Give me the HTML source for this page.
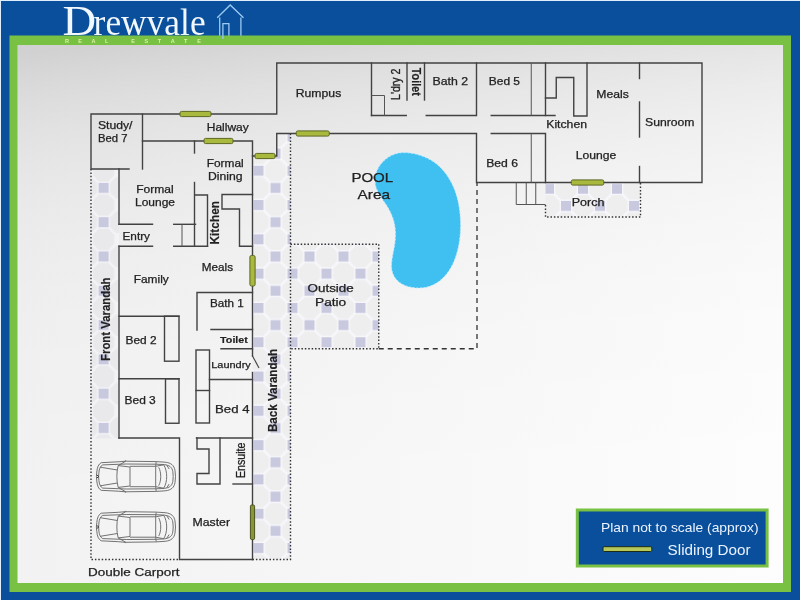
<!DOCTYPE html>
<html lang="en">
<head>
<meta charset="utf-8">
<title>Drewvale Real Estate - Floor Plan</title>
<style>
html,body{margin:0;padding:0;}
body{width:800px;height:600px;overflow:hidden;background:#0a4f9b;font-family:"Liberation Sans",sans-serif;}
svg{display:block;position:absolute;left:0;top:0;will-change:transform;}
.w{stroke:#424242;stroke-width:1.4;fill:none;stroke-linecap:square;}
.t{stroke:#555;stroke-width:1;fill:none;}
.dot{stroke:#333;stroke-width:1.4;fill:none;stroke-dasharray:1.5 1.9;}
.dash{stroke:#333;stroke-width:1.3;fill:none;stroke-dasharray:5 4;}
.sd{fill:#a9b93e;stroke:#5d6722;stroke-width:1;}
.sd2{fill:#8a9636;stroke:#4a5220;stroke-width:1;}
.lb{font-family:"Liberation Sans",sans-serif;font-size:10.4px;fill:#222;stroke:#222;stroke-width:0.25;}
.b{font-weight:bold;stroke-width:0.15;}
.car{stroke:#6a6a6a;stroke-width:0.95;fill:none;}
</style>
</head>
<body>
<svg width="800" height="600" viewBox="0 0 800 600">
<defs>
<linearGradient id="bg" x1="0" y1="0" x2="1" y2="0">
<stop offset="0" stop-color="#f2f2f2"/>
<stop offset="1" stop-color="#fdfdfd"/>
</linearGradient>
<linearGradient id="shade" gradientUnits="userSpaceOnUse" x1="50" y1="50" x2="79.8" y2="508.2">
<stop offset="0.0" stop-color="#000" stop-opacity="0.1382"/>
<stop offset="0.0543" stop-color="#000" stop-opacity="0.1112"/>
<stop offset="0.1087" stop-color="#000" stop-opacity="0.0895"/>
<stop offset="0.1739" stop-color="#000" stop-opacity="0.0689"/>
<stop offset="0.2391" stop-color="#000" stop-opacity="0.0531"/>
<stop offset="0.3261" stop-color="#000" stop-opacity="0.0375"/>
<stop offset="0.4348" stop-color="#000" stop-opacity="0.0243"/>
<stop offset="0.5435" stop-color="#000" stop-opacity="0.0157"/>
<stop offset="0.6522" stop-color="#000" stop-opacity="0.0102"/>
<stop offset="0.8261" stop-color="#000" stop-opacity="0.0051"/>
<stop offset="1.0" stop-color="#000" stop-opacity="0.0"/>
</linearGradient>
<pattern id="tile" x="253.5" y="165.75" width="34" height="34.3" patternUnits="userSpaceOnUse">
<rect x="0" y="0" width="34" height="34.3" fill="#f7f7fb"/>
<path d="M11.4,0.4L17.4,-5.75L26.6,-5.75L32.6,0.4L32.6,9.6L26.6,15.75L17.4,15.75L11.4,9.6ZM11.4,34.7L17.4,28.55L26.6,28.55L32.6,34.7L32.6,43.9L26.6,50.05L17.4,50.05L11.4,43.9ZM-5.6,17.55L0.4,11.4L9.6,11.4L15.6,17.55L15.6,26.75L9.6,32.9L0.4,32.9L-5.6,26.75ZM28.4,17.55L34.4,11.4L43.6,11.4L49.6,17.55L49.6,26.75L43.6,32.9L34.4,32.9L28.4,26.75Z" fill="#eeeeef"/>
<rect x="0" y="0" width="10" height="10" fill="#c8c9de"/>
<rect x="17" y="17.15" width="10" height="10" fill="#c8c9de"/>
</pattern>
<pattern id="tileF" x="98.6" y="182.9" width="34" height="34.3" patternUnits="userSpaceOnUse">
<rect x="0" y="0" width="34" height="34.3" fill="#f3f3f7"/>
<path d="M11.4,0.4L17.4,-5.75L26.6,-5.75L32.6,0.4L32.6,9.6L26.6,15.75L17.4,15.75L11.4,9.6ZM11.4,34.7L17.4,28.55L26.6,28.55L32.6,34.7L32.6,43.9L26.6,50.05L17.4,50.05L11.4,43.9ZM-5.6,17.55L0.4,11.4L9.6,11.4L15.6,17.55L15.6,26.75L9.6,32.9L0.4,32.9L-5.6,26.75ZM28.4,17.55L34.4,11.4L43.6,11.4L49.6,17.55L49.6,26.75L43.6,32.9L34.4,32.9L28.4,26.75Z" fill="#e9e9eb"/>
<rect x="0" y="0" width="10" height="10" fill="#c8c9de"/>
</pattern>
<pattern id="tileP" x="255" y="166.6" width="34" height="34.3" patternUnits="userSpaceOnUse">
<rect x="0" y="0" width="34" height="34.3" fill="#f7f7fb"/>
<path d="M11.4,0.4L17.4,-5.75L26.6,-5.75L32.6,0.4L32.6,9.6L26.6,15.75L17.4,15.75L11.4,9.6ZM11.4,34.7L17.4,28.55L26.6,28.55L32.6,34.7L32.6,43.9L26.6,50.05L17.4,50.05L11.4,43.9ZM-5.6,17.55L0.4,11.4L9.6,11.4L15.6,17.55L15.6,26.75L9.6,32.9L0.4,32.9L-5.6,26.75ZM28.4,17.55L34.4,11.4L43.6,11.4L49.6,17.55L49.6,26.75L43.6,32.9L34.4,32.9L28.4,26.75Z" fill="#eeeeef"/>
<rect x="0" y="0" width="10" height="10" fill="#c8c9de"/>
<rect x="17" y="17.15" width="10" height="10" fill="#c8c9de"/>
</pattern>
</defs>

<!-- frame -->
<rect x="0" y="0" width="800" height="600" fill="#0a4f9b"/>
<rect x="0" y="0" width="800" height="1" fill="#dfeefa"/>
<rect x="0" y="0" width="1" height="600" fill="#dfeefa"/>
<rect x="9.5" y="35.5" width="781.5" height="556.5" fill="#78c143"/>
<rect x="17.5" y="45" width="765.5" height="538" fill="url(#bg)"/>
<rect x="17.5" y="45" width="765.5" height="538" fill="url(#shade)"/>

<!-- FLOORPLAN -->
<g id="plan">
<!-- tiled areas -->
<rect x="252.5" y="156" width="38" height="403.5" fill="url(#tile)"/>
<rect x="277" y="133.5" width="13.5" height="23" fill="url(#tile)"/>
<rect x="290.5" y="244" width="88.25" height="104.75" fill="url(#tile)"/>
<rect x="545.5" y="182.5" width="95" height="34.5" fill="url(#tileP)"/>
<rect x="91" y="169" width="28" height="269.5" fill="url(#tileF)"/>

<!-- pool -->
<path id="pool" d="M404,152.6 C414,152.6 426,156 436,163.5 C448,173 460.6,192 460.6,225 C460.6,262 444,288 419,288 C402,288 391.5,279 391.5,266 C391.5,256 395.5,247 395.5,234 C395.5,220 390,210 383.75,201.25 C379,194.5 375,188 375,181 C375,165 389,152.6 404,152.6 Z" fill="#3fc0f1" stroke="#bfeaff" stroke-width="0.9" stroke-dasharray="2 1.6"/>

<!-- dotted / dashed outlines -->
<polyline class="dot" points="91,169 91,559.5 179.5,559.5"/>
<polyline class="dot" points="252.5,559.5 290.5,559.5 290.5,133.5"/>
<polyline class="dot" points="290.5,244.2 378.75,244.2 378.75,348.75 290.5,348.75"/>
<polyline class="dot" points="545.5,205 545.5,217 640.5,217 640.5,182.5"/>
<polyline class="dash" points="378.75,348.75 477,348.75 477,182.5"/>

<!-- WALLS : left house -->
<polyline class="w" points="129,169 91,169 91,114 276.75,114 276.75,63 702,63 702,182.5 476.5,182.5 476.5,133.5 276.75,133.5 276.75,156 252.5,156"/>
<line class="w" x1="142.5" y1="114" x2="142.5" y2="169"/>
<polyline class="w" points="142.5,141 252.5,141 252.5,356"/>
<line class="w" x1="252.5" y1="372.5" x2="252.5" y2="559.5"/>
<line class="w" x1="252.5" y1="356" x2="258.75" y2="367.5" style="stroke-width:1.1"/>
<line class="w" x1="194.5" y1="141" x2="194.5" y2="153"/>
<line class="w" x1="194.5" y1="182.5" x2="194.5" y2="246.3"/>
<line class="w" x1="119" y1="169" x2="119" y2="224.3"/>
<line class="w" x1="119" y1="246.3" x2="119" y2="438"/>
<line class="w" x1="119" y1="224.3" x2="152.5" y2="224.3"/>
<line class="w" x1="119" y1="246.3" x2="152.5" y2="246.3"/>
<line class="w" x1="173.75" y1="224.3" x2="195.5" y2="224.3"/>
<line class="w" x1="173.75" y1="246.3" x2="207.5" y2="246.3"/>
<line class="t" x1="182" y1="224.3" x2="182" y2="246.3"/>
<polyline class="w" points="195.5,195 207.5,195 207.5,246.3"/>
<polyline class="w" points="252.5,194.5 222,194.5 222,209 239.5,209 239.5,246.3 252.5,246.3"/>
<!-- bath1 / toilet / laundry -->
<polyline class="w" points="252.5,292.5 197,292.5 197,330"/>
<line class="w" x1="211" y1="329.5" x2="252.5" y2="329.5"/>
<line class="w" x1="221" y1="348.75" x2="252.5" y2="348.75"/>
<rect class="w" x="196" y="350" width="13.5" height="73"/>
<line class="w" x1="196" y1="390.5" x2="209.5" y2="390.5"/>
<line class="w" x1="209.5" y1="379.5" x2="252.5" y2="379.5"/>
<!-- bed 2 / bed 3 -->
<line class="w" x1="119" y1="316.2" x2="179" y2="316.2"/>
<rect class="w" x="164.5" y="316.2" width="14.5" height="45"/>
<line class="w" x1="119" y1="378.75" x2="179" y2="378.75"/>
<rect class="w" x="165.5" y="378.75" width="13.5" height="44.5"/>
<polyline class="w" points="119,438 179.5,438 179.5,559.5 252.5,559.5"/>
<!-- ensuite -->
<line class="w" x1="196.5" y1="438" x2="252.5" y2="438"/>
<polyline class="w" points="197,438 197,449 209,449 209,473.5 197,473.5 197,484 220,484 220,438"/>
<line class="w" x1="233" y1="484" x2="252.5" y2="484"/>

<!-- WALLS : top wing -->
<line class="w" x1="371.5" y1="63" x2="371.5" y2="115.5"/>
<line class="w" x1="371.5" y1="115.5" x2="406.25" y2="115.5"/>
<polyline class="t" points="371.5,95.5 384.5,95.5 384.5,115.5"/>
<line class="w" x1="407" y1="63" x2="407" y2="100"/>
<line class="w" x1="424.5" y1="63" x2="424.5" y2="100"/>
<polyline class="w" points="426.25,115.5 476.5,115.5 476.5,63"/>
<line class="w" x1="491.25" y1="115.5" x2="555" y2="115.5"/>
<line class="t" x1="531.25" y1="63" x2="531.25" y2="115.5"/>
<line class="w" x1="545.5" y1="63" x2="545.5" y2="115.5"/>
<polyline class="w" points="545.5,98 556.25,98 556.25,77.5 573.75,77.5 573.75,116 587,116 587,63"/>
<polyline class="w" points="491.25,133.5 545.5,133.5 545.5,182.5"/>
<line class="t" x1="531.25" y1="133.5" x2="531.25" y2="182.5"/>
<line class="w" x1="639.5" y1="63" x2="639.5" y2="78.5"/>
<line class="w" x1="639.5" y1="102" x2="639.5" y2="137"/>
<line class="w" x1="639.5" y1="166.5" x2="639.5" y2="182.5"/>
<!-- steps -->
<polyline class="t" points="516.25,182.5 516.25,204.5 545.5,204.5"/>
<line class="t" x1="526.25" y1="182.5" x2="526.25" y2="204.5"/>
<line class="t" x1="535.75" y1="182.5" x2="535.75" y2="204.5"/>
<!-- sliding doors -->
<rect class="sd" x="180" y="111.4" width="31" height="5.2" rx="1.56"/>
<rect class="sd" x="204" y="138.4" width="29" height="5.2" rx="1.56"/>
<rect class="sd" x="255" y="153.4" width="20" height="5.2" rx="1.56"/>
<rect class="sd" x="296.25" y="130.9" width="33.0" height="5.2" rx="1.56"/>
<rect class="sd" x="571.25" y="179.9" width="32.5" height="5.2" rx="1.56"/>
<rect class="sd" x="249.9" y="255.5" width="5.2" height="30.5" rx="1.56"/>
<rect class="sd2" x="250.4" y="505" width="4.2" height="34.5" rx="1.3"/>
<!-- labels -->
<text class="lb" x="98" y="129.25" textLength="34.5" lengthAdjust="spacingAndGlyphs">Study/</text>
<text class="lb" x="98" y="142" textLength="29.5" lengthAdjust="spacingAndGlyphs">Bed 7</text>
<text class="lb" x="206.75" y="130.5" textLength="42" lengthAdjust="spacingAndGlyphs">Hallway</text>
<text class="lb" x="206.75" y="167" textLength="37" lengthAdjust="spacingAndGlyphs">Formal</text>
<text class="lb" x="208" y="180" textLength="34.5" lengthAdjust="spacingAndGlyphs">Dining</text>
<text class="lb" x="136.25" y="193" textLength="37.5" lengthAdjust="spacingAndGlyphs">Formal</text>
<text class="lb" x="135" y="206" textLength="40" lengthAdjust="spacingAndGlyphs">Lounge</text>
<text class="lb" x="122.5" y="240" textLength="27.5" lengthAdjust="spacingAndGlyphs">Entry</text>
<text class="lb" x="201.75" y="270.75" textLength="31.25" lengthAdjust="spacingAndGlyphs">Meals</text>
<text class="lb" x="133.75" y="283" textLength="35" lengthAdjust="spacingAndGlyphs">Family</text>
<text class="lb" x="210" y="306.75" textLength="33.75" lengthAdjust="spacingAndGlyphs">Bath 1</text>
<text class="lb b" x="220.1" y="343.3" textLength="27.8" lengthAdjust="spacingAndGlyphs" style="font-size:9.5px">Toilet</text>
<text class="lb" x="125.5" y="343.75" textLength="31" lengthAdjust="spacingAndGlyphs">Bed 2</text>
<text class="lb" x="124.5" y="403.75" textLength="31.25" lengthAdjust="spacingAndGlyphs">Bed 3</text>
<text class="lb" x="211.25" y="367.8" textLength="39.5" lengthAdjust="spacingAndGlyphs" style="font-size:9.5px">Laundry</text>
<text class="lb" x="215" y="413.3" textLength="34.5" lengthAdjust="spacingAndGlyphs" style="font-size:11.5px">Bed 4</text>
<text class="lb" x="192.5" y="526.25" textLength="37.5" lengthAdjust="spacingAndGlyphs">Master</text>
<text class="lb" x="88" y="576" textLength="91.5" lengthAdjust="spacingAndGlyphs" style="font-size:11.5px">Double Carport</text>
<text class="lb" x="295.75" y="97" textLength="45.5" lengthAdjust="spacingAndGlyphs">Rumpus</text>
<text class="lb" x="351.4" y="181.7" textLength="41.8" lengthAdjust="spacingAndGlyphs" style="font-size:12.8px">POOL</text>
<text class="lb" x="357.6" y="198.5" textLength="32.5" lengthAdjust="spacingAndGlyphs" style="font-size:12.6px">Area</text>
<text class="lb" x="432.5" y="84.5" textLength="35.5" lengthAdjust="spacingAndGlyphs">Bath 2</text>
<text class="lb" x="488.75" y="84.5" textLength="31.25" lengthAdjust="spacingAndGlyphs">Bed 5</text>
<text class="lb" x="546.25" y="127.5" textLength="40.75" lengthAdjust="spacingAndGlyphs">Kitchen</text>
<text class="lb" x="486.25" y="166.75" textLength="31.75" lengthAdjust="spacingAndGlyphs">Bed 6</text>
<text class="lb" x="596.25" y="98" textLength="32.5" lengthAdjust="spacingAndGlyphs">Meals</text>
<text class="lb" x="645" y="126.25" textLength="49.5" lengthAdjust="spacingAndGlyphs">Sunroom</text>
<text class="lb" x="575.75" y="158.75" textLength="40.5" lengthAdjust="spacingAndGlyphs">Lounge</text>
<text class="lb" x="571.75" y="205.5" textLength="32.75" lengthAdjust="spacingAndGlyphs" fill="#555">Porch</text>
<text class="lb" x="307.5" y="291.75" textLength="46.25" lengthAdjust="spacingAndGlyphs">Outside</text>
<text class="lb" x="315" y="305.75" textLength="31.25" lengthAdjust="spacingAndGlyphs">Patio</text>
<text class="lb b" transform="translate(218.5,244.5) rotate(-90) scale(1,1.15)" textLength="43.5" lengthAdjust="spacingAndGlyphs" style="font-size:11.9px">Kitchen</text>
<text class="lb b" transform="translate(110.3,361) rotate(-90) scale(1,1.15)" textLength="83.5" lengthAdjust="spacingAndGlyphs" style="font-size:11.3px">Front Varandah</text>
<text class="lb b" transform="translate(277,432) rotate(-90) scale(1,1.15)" textLength="83" lengthAdjust="spacingAndGlyphs" style="font-size:11.5px">Back Varandah</text>
<text class="lb" transform="translate(245.25,478) rotate(-90) scale(1,1.15)" textLength="35.5" lengthAdjust="spacingAndGlyphs" style="font-size:10.6px">Ensuite</text>
<text class="lb" transform="translate(399.8,100) rotate(-90) scale(1,1.15)" textLength="31.5" lengthAdjust="spacingAndGlyphs" style="font-size:10.6px">L'dry 2</text>
<text class="lb b" transform="translate(411.5,67.8) rotate(90) scale(1,1.15)" textLength="28" lengthAdjust="spacingAndGlyphs" style="font-size:10.5px">Toilet</text>
</g>
<!-- cars -->
<g id="car1" class="car" transform="translate(96.2,461)">
<path d="M5,1.7 L22,0.8 L29,0.2 L60,0.6 L69,1.2 C75,1.8 78,4.5 78.8,9.5 L79.3,15.5 L78.8,21.5 C78,26.5 75,29.2 69,29.8 L60,30.4 L29,30.8 L22,30.2 L5,29.3 C2.3,28 1,24.5 0.6,20 L0.2,15.5 L0.6,11 C1,6.5 2.3,3 5,1.7 Z"/>
<path d="M6.5,3.9 L22,3.3 L30,3 L60,3.2 L68,3.6 C73.5,4.2 76,6.5 76.6,10.5 L77,15.5 L76.6,20.5 C76,24.5 73.5,26.8 68,27.4 L60,27.8 L30,28 L22,27.7 L6.5,27.1 C4.2,26 3,23 2.7,19.5 L2.4,15.5 L2.7,11.5 C3,8 4.2,5 6.5,3.9 Z"/>
<path d="M4,6.2 L21.2,9 M4,24.8 L21.2,22"/>
<path d="M22,4.6 C20.2,11 20.2,20 22,26.4 L33.8,25 L33.8,6 Z"/>
<path d="M33.8,5.3 L59.5,5.3 L59.5,25.7 L33.8,25.7"/>
<path d="M59.5,5.3 L67.5,3.8 C71.5,10 71.5,21 67.5,27.2 L59.5,25.7"/>
<path d="M62.5,6.4 C65.2,11 65.2,20 62.5,24.6"/>
<path d="M22,4.6 L29.5,0.2 M22,26.4 L29.5,30.8 M29.5,-0.6 L28.5,0.8 M29.5,31.6 L28.5,30.2 M59.5,5.3 L60,0.8 M59.5,25.7 L60,30.2 M70.5,4.2 L73,8 M70.5,26.8 L73,23"/>
<path d="M0.6,14 L2.6,15.5 L0.6,17" stroke="#333"/>
</g>
<g id="car2" class="car" transform="translate(96.2,511.5)">
<path d="M5,1.7 L22,0.8 L29,0.2 L60,0.6 L69,1.2 C75,1.8 78,4.5 78.8,9.5 L79.3,15.5 L78.8,21.5 C78,26.5 75,29.2 69,29.8 L60,30.4 L29,30.8 L22,30.2 L5,29.3 C2.3,28 1,24.5 0.6,20 L0.2,15.5 L0.6,11 C1,6.5 2.3,3 5,1.7 Z"/>
<path d="M6.5,3.9 L22,3.3 L30,3 L60,3.2 L68,3.6 C73.5,4.2 76,6.5 76.6,10.5 L77,15.5 L76.6,20.5 C76,24.5 73.5,26.8 68,27.4 L60,27.8 L30,28 L22,27.7 L6.5,27.1 C4.2,26 3,23 2.7,19.5 L2.4,15.5 L2.7,11.5 C3,8 4.2,5 6.5,3.9 Z"/>
<path d="M4,6.2 L21.2,9 M4,24.8 L21.2,22"/>
<path d="M22,4.6 C20.2,11 20.2,20 22,26.4 L33.8,25 L33.8,6 Z"/>
<path d="M33.8,5.3 L59.5,5.3 L59.5,25.7 L33.8,25.7"/>
<path d="M59.5,5.3 L67.5,3.8 C71.5,10 71.5,21 67.5,27.2 L59.5,25.7"/>
<path d="M62.5,6.4 C65.2,11 65.2,20 62.5,24.6"/>
<path d="M22,4.6 L29.5,0.2 M22,26.4 L29.5,30.8 M29.5,-0.6 L28.5,0.8 M29.5,31.6 L28.5,30.2 M59.5,5.3 L60,0.8 M59.5,25.7 L60,30.2 M70.5,4.2 L73,8 M70.5,26.8 L73,23"/>
<path d="M0.6,14 L2.6,15.5 L0.6,17" stroke="#333"/>
</g>

<!-- logo -->
<g style="font-family:'Liberation Serif',serif;fill:#f2f8ff;">
<text x="62.4" y="35" textLength="33.6" lengthAdjust="spacingAndGlyphs" style="font-size:43px;">D</text>
<text x="93.6" y="35" textLength="112" lengthAdjust="spacingAndGlyphs" style="font-size:38.5px;">rewvale</text>
</g>
<text y="42.6" x="65.1 78.3 91.5 104.9 118 131.2 144.4 157.7 170.7 184.1 197.2" style="font-family:'Liberation Sans',sans-serif;font-size:5.5px;font-weight:bold;fill:#d9f2a4;">REAL ESTATE</text>
<g stroke="#9ccaf3" stroke-width="1.3" fill="none" stroke-linejoin="miter">
<polyline points="217.2,17.8 230.2,5 243.5,17.8"/>
<line x1="219.7" y1="17.6" x2="219.7" y2="35.8"/>
<line x1="240.9" y1="17.6" x2="240.9" y2="35.8"/>
<polyline points="222.9,39 222.9,23.7 228.9,23.7 228.9,35.8"/>
</g>

<!-- legend -->
<rect x="575.8" y="508.5" width="192.8" height="59" fill="#78c143"/>
<rect x="578.8" y="511.5" width="186.8" height="53" fill="#0a4f9b"/>
<text x="601" y="532" textLength="157.5" lengthAdjust="spacingAndGlyphs" style="font-size:13.5px;fill:#eaf3ff;">Plan not to scale (approx)</text>
<text x="667.6" y="554.6" textLength="83" lengthAdjust="spacingAndGlyphs" style="font-size:14px;fill:#eaf3ff;">Sliding Door</text>
<rect x="603" y="546.7" width="48.8" height="4.8" rx="1.2" fill="#b7c85a" stroke="#1d2a14" stroke-width="1"/>

</svg>
</body>
</html>
